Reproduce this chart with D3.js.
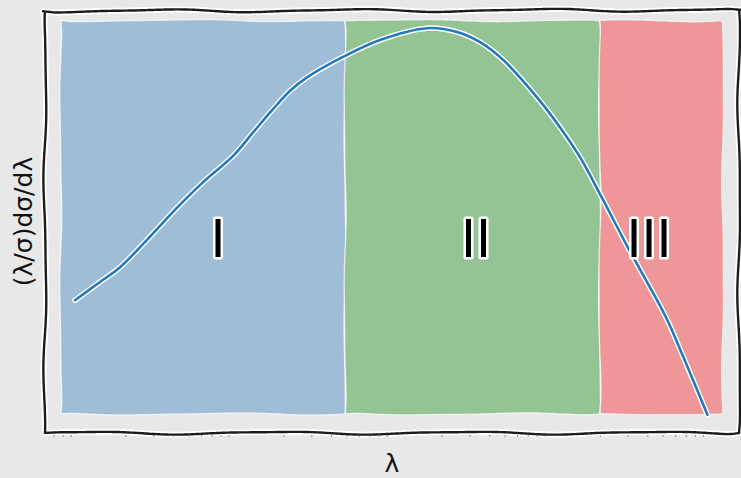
<!DOCTYPE html>
<html><head><meta charset="utf-8">
<script src="https://cdn.jsdelivr.net/npm/d3@7"></script>
<style>
html,body{margin:0;padding:0;background:#e8e8e8;}
svg{display:block;}
</style></head><body>
<svg id="chart" width="741" height="478"></svg>
<script>
// Spectral regimes along λ
const regimeNames = ["I", "II", "III"];
const regimeEdges = [0.78, 49, 2000, 12000];
const regimeColors = ["#9fbdd6", "#94c394", "#ef9698"];
const regimeLabelX = [7.7, 330, 4100];
const regimeLabelY = 0.46;
const bandY = [0.045, 0.975];

// (λ/σ)dσ/dλ sampled along λ
const lambda = [0.96, 1.38, 1.85, 2.73, 4.23, 6.2, 9.6, 12.8, 17.2, 22, 28, 47.5, 81.5, 162, 250, 350, 490, 800, 1120, 1500, 2100, 3000, 4350, 5350, 6750, 9600];
const response = [0.314, 0.357, 0.392, 0.456, 0.532, 0.593, 0.655, 0.710, 0.766, 0.809, 0.840, 0.889, 0.929, 0.957, 0.948, 0.924, 0.882, 0.794, 0.723, 0.652, 0.551, 0.440, 0.331, 0.267, 0.180, 0.043];

const xDomain = [0.62, 15200];
const yDomain = [0, 1];
const xLabel = "λ";
const yLabel = "(λ/σ)dσ/dλ";

const W = 741, H = 478;
const margin = {left: 45, right: 2, top: 10, bottom: 45};
const svg = d3.select("#chart");

const x = d3.scaleLog().domain(xDomain).range([margin.left, W - margin.right]);
const y = d3.scaleLinear().domain(yDomain).range([H - margin.bottom, margin.top]);

// soft edge for the hand-drawn fills
const defs = svg.append("defs");
defs.append("filter").attr("id", "soft").attr("x", "-5%").attr("y", "-5%").attr("width", "110%").attr("height", "110%")
  .append("feGaussianBlur").attr("stdDeviation", 0.7);

// Smooth, deterministic hand-drawn wobble along a polyline
function wobble(points, amp, phase, closed) {
  const pts = closed ? points.concat([points[0]]) : points;
  const out = [];
  let dist = 0;
  for (let i = 0; i < pts.length - 1; i++) {
    const [x0, y0] = pts[i], [x1, y1] = pts[i + 1];
    const len = Math.hypot(x1 - x0, y1 - y0);
    const n = Math.max(2, Math.ceil(len / 4));
    const nx = -(y1 - y0) / len, ny = (x1 - x0) / len;
    for (let k = 0; k < n; k++) {
      const t = k / n;
      const d = dist + t * len;
      const taper = Math.min(1, Math.min(t * len, (1 - t) * len) / 15 + 0.2);
      const off = amp * taper * (0.75 * Math.sin(d / 190 * 2 * Math.PI + phase) + 0.25 * Math.sin(d / 95 * 2 * Math.PI + phase * 1.7));
      out.push([x0 + (x1 - x0) * t + nx * off, y0 + (y1 - y0) * t + ny * off]);
    }
    dist += len;
  }
  if (!closed) out.push(pts[pts.length - 1]);
  return out;
}
const lineGen = d3.line().curve(d3.curveBasis);

// regime bands
regimeNames.forEach((name, i) => {
  const x0 = x(regimeEdges[i]), x1 = x(regimeEdges[i + 1]);
  const yt = y(bandY[1]), yb = y(bandY[0]);
  const pts = wobble([[x0, yt], [x1, yt], [x1, yb], [x0, yb]], 1.2, i * 2.1 + 0.5, true);
  svg.append("path")
    .attr("d", lineGen(pts) + "Z")
    .attr("fill", regimeColors[i])
    .attr("stroke", "#ffffff").attr("stroke-opacity", 0.7).attr("stroke-width", 1.3)
    .attr("filter", "url(#soft)");
});

// curve with white halo
const curvePts = lambda.map((l, i) => [x(l), y(response[i])]);
const curveLine = d3.line().curve(d3.curveCatmullRom.alpha(0.5));
svg.append("path").attr("d", curveLine(curvePts))
  .attr("fill", "none").attr("stroke", "#ffffff").attr("stroke-width", 5.5)
  .attr("stroke-linecap", "round").attr("stroke-linejoin", "round");
svg.append("path").attr("d", curveLine(curvePts))
  .attr("fill", "none").attr("stroke", "#2379ba").attr("stroke-width", 2.6)
  .attr("stroke-linecap", "round").attr("stroke-linejoin", "round");

// regime labels
regimeNames.forEach((name, i) => {
  svg.append("text")
    .attr("x", x(regimeLabelX[i])).attr("y", y(regimeLabelY) + 19)
    .attr("text-anchor", "middle")
    .attr("font-family", "DejaVu Sans").attr("font-size", 51)
    .attr("fill", "#000").attr("stroke", "#ffffff").attr("stroke-width", 5)
    .attr("stroke-linejoin", "round").attr("paint-order", "stroke")
    .text(name);
});

// axes frame (hand drawn)
const L = margin.left, R = W - margin.right, T = margin.top, B = H - margin.bottom;
const spines = [
  [[L - 2, T + 1], [R + 2, T]],
  [[L, T + 3], [L, B]],
  [[L, B], [R, B]],
  [[R, T], [R, B]]
];
spines.forEach((s, i) => {
  const d = lineGen(wobble(s, 1.7, i * 1.3 + 0.8, false));
  svg.append("path").attr("d", d).attr("fill", "none").attr("stroke", "#ffffff").attr("stroke-width", 6).attr("stroke-linecap", "round");
});
spines.forEach((s, i) => {
  const d = lineGen(wobble(s, 1.7, i * 1.3 + 0.8, false));
  svg.append("path").attr("d", d).attr("fill", "none").attr("stroke", "#1c1c1c").attr("stroke-width", 2.4).attr("stroke-linecap", "round");
});

// minor ticks of the log axis
const minor = x.ticks().filter(v => Math.abs(Math.log10(v) - Math.round(Math.log10(v))) > 1e-6);
const ax = svg.append("g").attr("transform", `translate(0,${B + 2})`)
  .call(d3.axisBottom(x).tickValues(minor).tickSize(2).tickFormat(""));
ax.select(".domain").remove();
ax.selectAll(".tick line").attr("stroke", "#777").attr("stroke-width", 0.8);

// axis labels
svg.append("text").attr("x", (L + R) / 2).attr("y", 472)
  .attr("text-anchor", "middle").attr("font-family", "DejaVu Sans").attr("font-size", 25)
  .attr("fill", "#111").text(xLabel);
svg.append("text").attr("transform", `translate(32,${(T + B) / 2}) rotate(-90)`)
  .attr("text-anchor", "middle").attr("font-family", "DejaVu Sans").attr("font-size", 25)
  .attr("fill", "#111").text(yLabel);
</script>
</body></html>
